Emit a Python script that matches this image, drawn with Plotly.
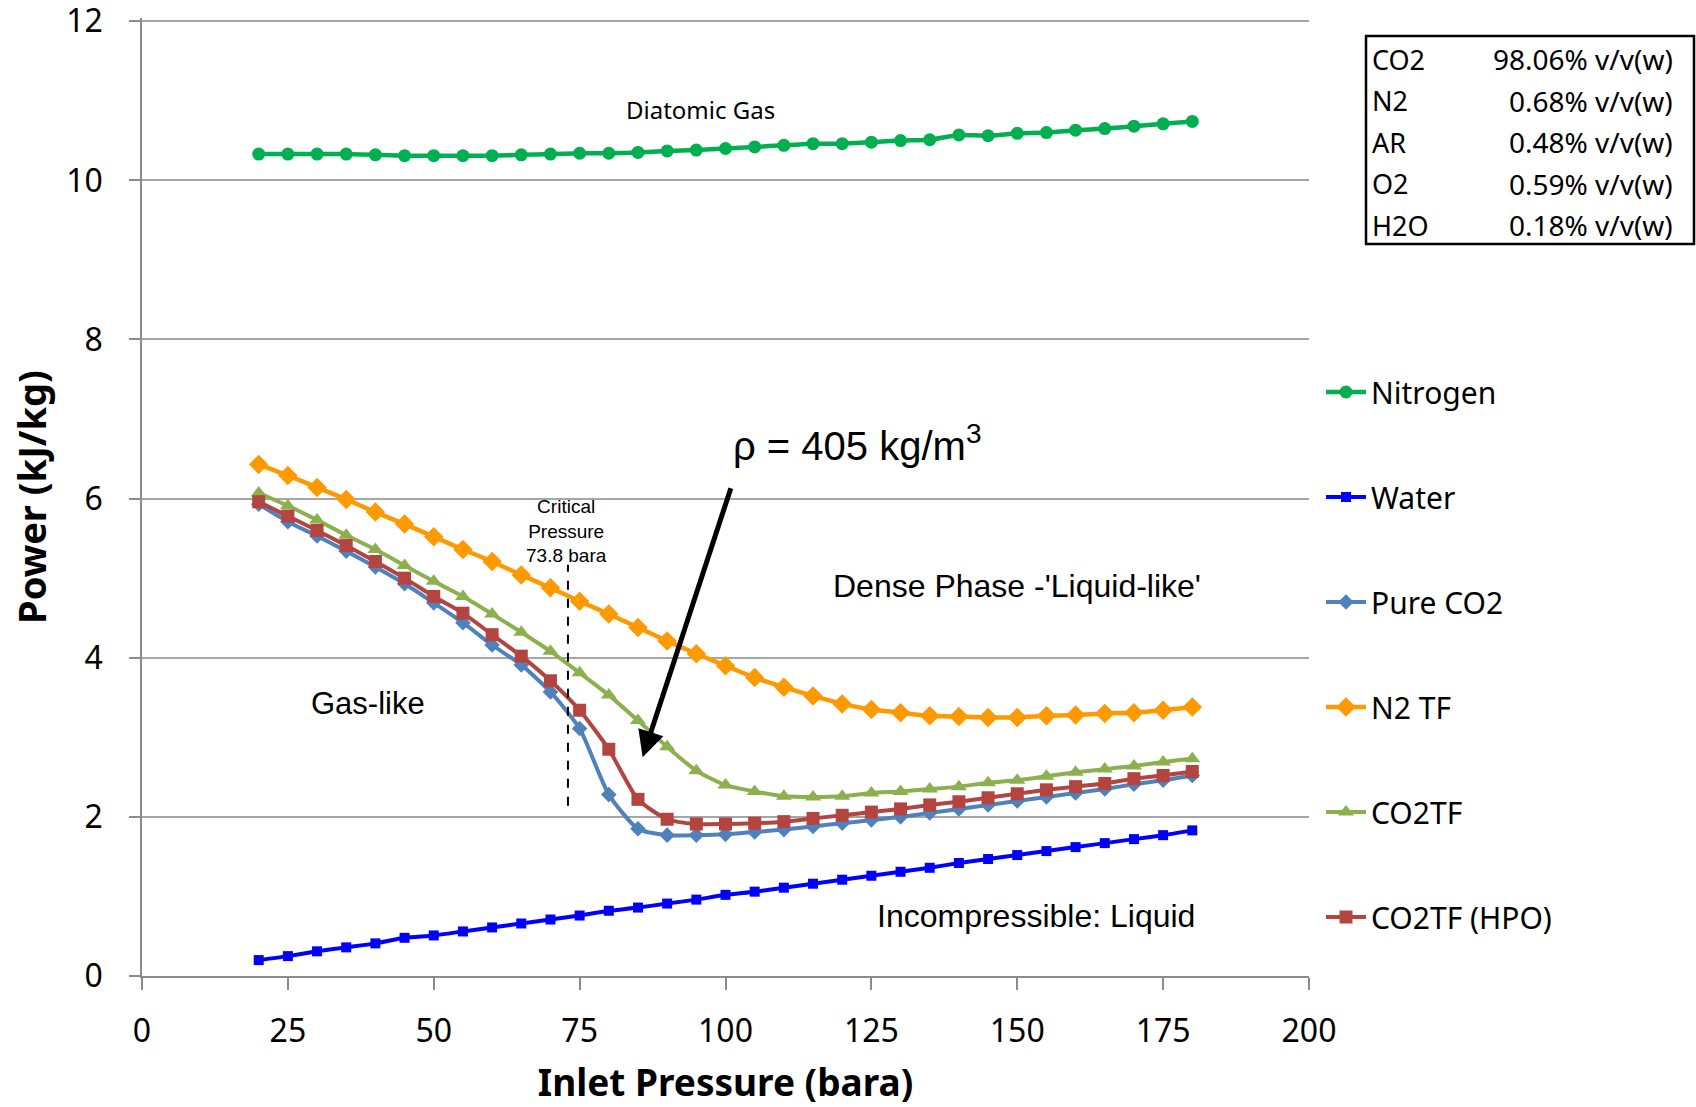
import plotly.graph_objects as go

# ---------------- data ----------------
pressure = [20, 25, 30, 35, 40, 45, 50, 55, 60, 65, 70, 75, 80, 85, 90, 95, 100,
            105, 110, 115, 120, 125, 130, 135, 140, 145, 150, 155, 160, 165, 170, 175, 180]

nitrogen = [10.33, 10.33, 10.33, 10.33, 10.32, 10.31, 10.31, 10.31, 10.31, 10.32, 10.33,
            10.34, 10.34, 10.35, 10.37, 10.38, 10.40, 10.42, 10.44, 10.46, 10.46, 10.48,
            10.50, 10.51, 10.57, 10.56, 10.59, 10.60, 10.63, 10.65, 10.68, 10.71, 10.74]

water = [0.20, 0.25, 0.31, 0.36, 0.41, 0.48, 0.51, 0.56, 0.61, 0.66, 0.71, 0.76, 0.82,
         0.86, 0.91, 0.96, 1.02, 1.06, 1.11, 1.16, 1.21, 1.26, 1.31, 1.36, 1.42, 1.47,
         1.52, 1.57, 1.62, 1.67, 1.72, 1.77, 1.83]

pure_co2 = [5.93, 5.71, 5.53, 5.34, 5.14, 4.93, 4.69, 4.44, 4.16, 3.91, 3.57, 3.11, 2.28,
            1.85, 1.77, 1.77, 1.78, 1.81, 1.84, 1.88, 1.92, 1.96, 2.00, 2.05, 2.10, 2.15,
            2.20, 2.25, 2.30, 2.35, 2.41, 2.46, 2.52]

n2_tf = [6.43, 6.29, 6.14, 5.99, 5.83, 5.68, 5.52, 5.36, 5.21, 5.04, 4.88, 4.71, 4.55,
         4.38, 4.21, 4.05, 3.90, 3.75, 3.63, 3.52, 3.42, 3.35, 3.31, 3.27, 3.26, 3.25,
         3.25, 3.27, 3.28, 3.30, 3.31, 3.34, 3.38]

co2tf = [6.07, 5.91, 5.73, 5.54, 5.36, 5.16, 4.96, 4.77, 4.55, 4.32, 4.08, 3.81, 3.53,
         3.21, 2.88, 2.58, 2.40, 2.32, 2.26, 2.25, 2.26, 2.30, 2.32, 2.35, 2.38, 2.43,
         2.46, 2.51, 2.56, 2.60, 2.64, 2.69, 2.73]

co2tf_hpo = [5.96, 5.78, 5.60, 5.41, 5.21, 5.00, 4.77, 4.56, 4.29, 4.02, 3.71, 3.34, 2.85,
             2.22, 1.97, 1.91, 1.91, 1.92, 1.94, 1.98, 2.02, 2.06, 2.10, 2.15, 2.19, 2.24,
             2.29, 2.34, 2.38, 2.42, 2.48, 2.52, 2.57]

series_names = ["Nitrogen", "Water", "Pure CO2", "N2 TF", "CO2TF", "CO2TF (HPO)"]

components = ["CO2", "N2", "AR", "O2", "H2O"]
fractions = ["98.06%", "0.68%", "0.48%", "0.59%", "0.18%"]

x_ticks = [0, 25, 50, 75, 100, 125, 150, 175, 200]
y_ticks = [0, 2, 4, 6, 8, 10, 12]

critical_pressure_line_x = 73
critical_line_y = [2.14, 5.17]

# ---------------- layout geometry ----------------
W, H = 1696, 1107
Y_TOP = 12.04
ML, MR, MB = 142, 387, 131
MT = int(round(21.6 - (Y_TOP - 12) * (954 / 12)))
PW, PH = W - ML - MR, H - MT - MB


def px_x(px):
    return (px - ML) / PW


def px_y(py):
    return (H - MB - py) / PH


CAL = "Noto Sans, Open Sans, sans-serif"
ARI = "Liberation Sans, Arial, sans-serif"

styles = [
    dict(color="#00B050", symbol="circle", size=13, width=4.5),
    dict(color="#0000FF", symbol="square", size=10, width=4),
    dict(color="#4F81BD", symbol="diamond", size=12, width=4),
    dict(color="#FF9900", symbol="diamond", size=15, width=4.5),
    dict(color="#8DB04F", symbol="triangle-up", size=14, width=4),
    dict(color="#B4443F", symbol="square", size=13, width=4),
]
values = [nitrogen, water, pure_co2, n2_tf, co2tf, co2tf_hpo]

fig = go.Figure()
for name, vals, st in zip(series_names, values, styles):
    fig.add_trace(go.Scatter(
        x=pressure, y=vals, name=name, mode="lines+markers",
        legendgroup=name,
        line=dict(color=st["color"], width=st["width"], shape="spline", smoothing=0.6),
        marker=dict(color=st["color"], symbol=st["symbol"], size=st["size"],
                    line=dict(width=0)),
    ))

annotations = [
    dict(x=95.7, y=10.89, xref="x", yref="y", text="Diatomic Gas", showarrow=False,
         font=dict(family=CAL, size=24, color="black")),
    dict(x=38.7, y=3.42, xref="x", yref="y", text="Gas-like", showarrow=False,
         font=dict(family=ARI, size=31, color="black")),
    dict(x=72.7, y=5.59, xref="x", yref="y",
         text="Critical<br>Pressure<br>73.8 bara", showarrow=False,
         font=dict(family=ARI, size=19, color="black")),
    dict(x=122.6, y=6.70, xref="x", yref="y", text="ρ = 405 kg/m<sup>3</sup>",
         showarrow=False, font=dict(family=ARI, size=40, color="black")),
    dict(x=150.0, y=4.90, xref="x", yref="y", text="Dense Phase -'Liquid-like'",
         showarrow=False, font=dict(family=ARI, size=32, color="black")),
    dict(x=153.2, y=0.75, xref="x", yref="y", text="Incompressible: Liquid",
         showarrow=False, font=dict(family=ARI, size=32, color="black")),
    dict(x=85.8, y=2.75, xref="x", yref="y", ax=101.0, ay=6.15, axref="x", ayref="y",
         text="", showarrow=True, arrowhead=2, arrowsize=1.05, arrowwidth=5,
         arrowcolor="black"),
]

# composition table
row_y = [59.5, 100.9, 142.3, 183.7, 225.1]
for comp, frac, ry in zip(components, fractions, row_y):
    annotations.append(dict(x=px_x(1370), y=px_y(ry), xref="paper", yref="paper",
                            text=comp, showarrow=False, xanchor="left", yanchor="middle",
                            font=dict(family=CAL, size=27, color="black")))
    annotations.append(dict(x=px_x(1675), y=px_y(ry), xref="paper", yref="paper",
                            text=f"{frac} v/v(w)", showarrow=False, xanchor="right",
                            yanchor="middle",
                            font=dict(family=CAL, size=28, color="black")))

shapes = [
    dict(type="line", xref="x", yref="y", x0=critical_pressure_line_x,
         x1=critical_pressure_line_x, y0=critical_line_y[0], y1=critical_line_y[1],
         line=dict(color="black", width=2, dash="dash")),
    dict(type="rect", xref="paper", yref="paper", x0=px_x(1366), x1=px_x(1694),
         y0=px_y(244), y1=px_y(36), line=dict(color="black", width=2.5)),
]

fig.update_layout(
    width=W, height=H,
    margin=dict(l=ML, r=MR, t=MT, b=MB, autoexpand=False),
    paper_bgcolor="white", plot_bgcolor="white",
    showlegend=True,
    legend=dict(x=px_x(1321), y=px_y(366), xanchor="left", yanchor="top",
                traceorder="grouped", tracegroupgap=63,
                font=dict(family=CAL, size=30, color="black"),
                bgcolor="rgba(0,0,0,0)", itemwidth=40),
    annotations=annotations,
    shapes=shapes,
    xaxis=dict(range=[0, 200], tickvals=x_ticks, showgrid=False,
               showline=True, linecolor="#8C8C8C", linewidth=1.5,
               ticks="outside", ticklen=12, tickcolor="#8C8C8C", tickwidth=1.5,
               ticklabelstandoff=14, ticklabeloverflow="allow",
               tickfont=dict(family=CAL, size=32, color="black"),
               title=dict(text="<b>Inlet Pressure (bara)</b>", standoff=28,
                          font=dict(family=CAL, size=37, color="black")),
               zeroline=False, automargin=False),
    yaxis=dict(range=[0, Y_TOP], tickvals=y_ticks, showgrid=True, gridcolor="#A6A6A6",
               gridwidth=1.5, showline=True, linecolor="#8C8C8C", linewidth=1.5,
               ticks="outside", ticklen=11, tickcolor="#8C8C8C", tickwidth=1.5,
               ticklabelstandoff=20, ticklabeloverflow="allow",
               tickfont=dict(family=CAL, size=32, color="black"),
               title=dict(text="<b>Power (kJ/kg)</b>", standoff=8,
                          font=dict(family=CAL, size=38, color="black")),
               zeroline=False, automargin=False),
)

fig.write_html("out.html")
